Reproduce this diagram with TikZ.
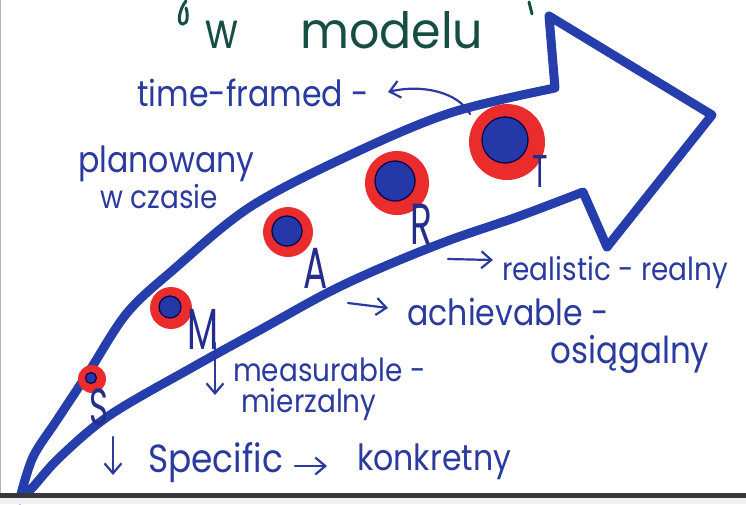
\documentclass[tikz,border=0pt]{standalone}
\usepackage{fontspec}
\setmainfont{Poppins}
\usetikzlibrary{arrows.meta}
\definecolor{pen}{RGB}{38,62,172}
\definecolor{ink}{RGB}{42,58,158}
\definecolor{navy}{RGB}{36,44,140}
\definecolor{ringred}{RGB}{234,44,44}
\definecolor{corebl}{RGB}{36,56,168}
\definecolor{titlegreen}{RGB}{22,78,68}
\tikzset{
  marker/.style={draw=pen, line width=9pt, line join=round, line cap=round},
  lbl/.style={text=ink, inner sep=0pt, anchor=base west, font=\fontsize{32}{34}\selectfont},
  bigletter/.style={text=navy, inner sep=0pt, font=\fontsize{58}{58}\selectfont},
  pointer/.style={draw=ink, line width=2.2pt, line cap=round, -{Straight Barb[length=10pt,width=17pt,line width=2.2pt]}},
  outerdot/.style={circle, fill=ringred, inner sep=0pt},
  innerdot/.style={circle, fill=corebl, draw=black!70!blue, line width=1.2pt, inner sep=0pt},
  titlepen/.style={draw=titlegreen, line width=3pt, line cap=round},
}
\newcommand{\narrow}[1]{\scalebox{0.62}[1]{#1}}
\newcommand{\lab}[1]{\scalebox{0.93}[1.06]{#1}}
\begin{document}
\begin{tikzpicture}[x=1pt,y=-1pt]
\useasboundingbox (0,0) rectangle (746,504);
\fill[white] (0,0) rectangle (746,504);

% title fragments
\draw[titlepen] (186,1) .. controls (180,8) and (176,24) .. (183,24) .. controls (188,24) and (188,14) .. (186,8);
\draw[titlepen] (529,2) -- (532,14);
\node[text=titlegreen, inner sep=0pt, anchor=base west, font=\fontsize{50}{50}\selectfont] (tw) at (205,48) {\scalebox{0.8}[1]{w}};
\node[text=titlegreen, inner sep=0pt, anchor=base west, font=\fontsize{50}{50}\selectfont] (tmodel) at (300,48) {\scalebox{0.95}[1]{modelu}};

% big arrow outline
\draw[marker]
  plot[smooth, tension=0.55] coordinates {(20,498) (33,457) (57,420) (90,370) (127,313) (173,270) (250,207) (350,155) (450,113) (555,88)}
  -- (549,16) -- (712,115) -- (607,247) -- (583,192)
  plot[smooth, tension=0.55] coordinates {(583,192) (517,217) (450,240) (383,267) (327,293) (260,330) (193,367) (110,415) (60,457) (33,487) (20,500)};

% dots
\node[outerdot, minimum size=76pt] (cT) at (507,142) {};
\node[innerdot, minimum size=46pt] (cTi) at (505,140) {};
\node[outerdot, minimum size=64pt] (cR) at (397,183) {};
\node[innerdot, minimum size=40pt] (cRi) at (395,181) {};
\node[outerdot, minimum size=50pt] (cA) at (288,232) {};
\node[innerdot, minimum size=30pt] (cAi) at (287,231) {};
\node[outerdot, minimum size=42pt] (cM) at (171,308) {};
\node[innerdot, minimum size=22pt] (cMi) at (170,307) {};
\node[outerdot, minimum size=28pt] (cS) at (92,379) {};
\node[innerdot, minimum size=11pt] (cSi) at (91,378) {};

% letters
\node[bigletter, font=\fontsize{52}{52}\selectfont] (lS) at (99,407) {\narrow{S}};
\node[bigletter] (lM) at (203,329) {\narrow{M}};
\node[bigletter] (lA) at (316,268) {\narrow{A}};
\node[bigletter] (lR) at (421,224) {\narrow{R}};
\node[bigletter, font=\fontsize{46}{46}\selectfont] (lT) at (540,171) {\narrow{T}};

% labels
\node[lbl, font=\fontsize{34}{36}\selectfont] (tf) at (137,106) {\lab{time-framed -}};
\node[lbl, font=\fontsize{34}{36}\selectfont] (pl) at (78,172) {\lab{planowany}};
\node[lbl, font=\fontsize{30}{32}\selectfont] (wc) at (100,208) {\lab{w czasie}};
\node[lbl, font=\fontsize{30}{32}\selectfont] (re) at (502,280) {\lab{realistic - realny}};
\node[lbl, font=\fontsize{34}{36}\selectfont] (ac) at (407,325) {\lab{achievable -}};
\node[lbl, font=\fontsize{35}{37}\selectfont] (os) at (550,363) {\lab{osiągalny}};
\node[lbl, font=\fontsize{30}{32}\selectfont] (me) at (233,381) {\lab{measurable -}};
\node[lbl, font=\fontsize{30}{32}\selectfont] (mi) at (241,412) {\lab{mierzalny}};
\node[lbl, font=\fontsize{37}{39}\selectfont] (sp) at (148,472) {\lab{Specific}};
\node[lbl, font=\fontsize{34}{36}\selectfont] (ko) at (357,470) {\lab{konkretny}};

% pointers
\coordinate (tfA) at (470,114);
\coordinate (tfB) at (388,92);
\draw[pointer] (tfA) .. controls (458,92) and (422,84) .. (tfB);
\coordinate (reA) at (448,259);
\coordinate (reB) at (493,260);
\draw[pointer] (reA) -- (reB);
\coordinate (acA) at (348,303);
\coordinate (acB) at (388,308);
\draw[pointer] (acA) -- (acB);
\coordinate (meA) at (215,343);
\coordinate (meB) at (215,395);
\draw[pointer] (meA) -- (meB);
\coordinate (spA) at (113,437);
\coordinate (spB) at (113,475);
\draw[pointer] (spA) -- (spB);
\coordinate (skA) at (295,466);
\coordinate (skB) at (327,466);
\draw[pointer] (skA) -- (skB);

% page edge
\fill[black!78] (0,493) rectangle (746,498);
\fill[black!6] (0,498) rectangle (746,504);
\draw[black!30, line width=1pt] (0.5,0) -- (0.5,493);
\end{tikzpicture}
\end{document}
